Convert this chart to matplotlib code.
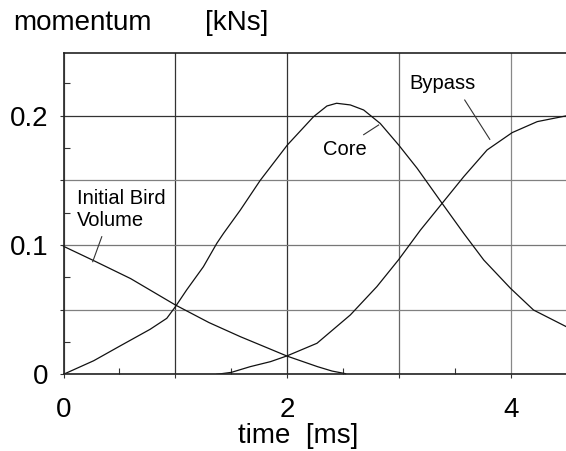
import matplotlib
matplotlib.use("Agg")
import matplotlib.pyplot as plt
from matplotlib.ticker import MultipleLocator

plt.rcParams['font.family'] = ['Liberation Sans', 'DejaVu Sans']

# ---- data ----
bird_t = [0.0, 0.27, 0.60, 1.0, 1.30, 1.58, 1.80, 2.0, 2.27, 2.40, 2.52]
bird_v = [0.099, 0.0879, 0.074, 0.0536, 0.040, 0.0291, 0.0212, 0.014, 0.0059,
          0.0025, 0.0005]

core_t = [0.0, 0.27, 0.505, 0.774, 0.923, 1.0, 1.10, 1.25, 1.37, 1.43, 1.58,
          1.758, 2.0, 2.234, 2.354, 2.44, 2.563, 2.682, 2.83, 2.995, 3.16, 3.383,
          3.576, 3.755, 3.994, 4.2, 4.5]
core_v = [0.0, 0.0105, 0.0219, 0.0348, 0.0433, 0.0523, 0.0652, 0.0832, 0.1013,
          0.109, 0.127, 0.150, 0.1773, 0.1992, 0.2075, 0.2096, 0.2083, 0.2044,
          0.194, 0.1773, 0.1593, 0.1322, 0.109, 0.0884, 0.0665, 0.0497, 0.0365]

bypass_t = [1.37, 1.50, 1.668, 1.85, 1.996, 2.265, 2.563, 2.80, 2.995, 3.19,
            3.383, 3.576, 3.785, 4.009, 4.233, 4.5]
bypass_v = [0.0, 0.0015, 0.0059, 0.0098, 0.0142, 0.024, 0.0459, 0.0678, 0.0887,
            0.1116, 0.1322, 0.1528, 0.1735, 0.1869, 0.1954, 0.200]

x_ticks = [0, 1, 2, 3, 4]
x_tick_labels = ['0', '', '2', '', '4']
y_ticks = [0, 0.05, 0.1, 0.15, 0.2]
y_tick_labels = ['0', '', '0.1', '', '0.2']

W, H = 566, 451
fig = plt.figure(figsize=(W / 100, H / 100), dpi=100)
x0, y0, x1, y1 = 63.5, 374.3, 566.0, 52.7
ax = fig.add_axes([x0 / W, (H - y0) / H, (x1 - x0) / W, (y0 - y1) / H])

ax.set_xlim(0, 4.49)
ax.set_ylim(0, 0.2487)

ax.set_xticks(x_ticks)
ax.set_xticklabels(x_tick_labels)
ax.set_yticks(y_ticks)
ax.set_yticklabels(y_tick_labels)
ax.xaxis.set_minor_locator(MultipleLocator(0.5))
ax.yaxis.set_minor_locator(MultipleLocator(0.025))

ax.tick_params(axis='both', which='major', direction='out', length=3,
               width=0.8, labelsize=20, color='#333333')
ax.tick_params(axis='x', which='major', pad=13)
ax.tick_params(axis='y', which='major', pad=8)
ax.tick_params(axis='both', which='minor', direction='in', length=4,
               width=0.8, color='#333333')

ax.grid(True, which='major', color='#888888', linewidth=0.9)
xgrid_cols = ['#888888', '#333333', '#333333', '#666666', '#888888']
for gl, c in zip(ax.xaxis.get_gridlines(), xgrid_cols):
    gl.set_color(c)
ygrid_cols = ['#888888', '#808080', '#777777', '#808080', '#333333']
for gl, c in zip(ax.yaxis.get_gridlines(), ygrid_cols):
    gl.set_color(c)
ax.set_axisbelow(True)

for s in ['left', 'bottom', 'top']:
    ax.spines[s].set_color('#222222')
    ax.spines[s].set_linewidth(1.2)
ax.spines['right'].set_visible(False)

lw = 0.9
ax.plot(bird_t, bird_v, color='#111111', lw=lw, clip_on=False)
ax.plot(core_t, core_v, color='#111111', lw=lw)
ax.plot(bypass_t, bypass_v, color='#111111', lw=lw)

fs = 14.5
# labels with leader lines
ax.text(0.118, 0.1275, 'Initial Bird\nVolume', fontsize=fs, ha='left',
        va='center', linespacing=1.2)
ax.plot([0.342, 0.261], [0.1064, 0.0871], color='#333333', lw=0.8)

ax.text(2.512, 0.1742, 'Core', fontsize=fs, ha='center', va='center')
ax.plot([2.682, 2.816], [0.1853, 0.1928], color='#333333', lw=0.8)

ax.text(3.383, 0.225, 'Bypass', fontsize=fs, ha='center', va='center')
ax.plot([3.585, 3.809], [0.2121, 0.1817], color='#333333', lw=0.8)

fig.text(13 / W, 1 - 23 / H, 'momentum', fontsize=20, ha='left', va='center')
fig.text(205 / W, 1 - 23 / H, '[kNs]', fontsize=20, ha='left', va='center')
fig.text(298.5 / W, 1 - 436 / H, 'time  [ms]', fontsize=20, ha='center',
         va='center')

fig.savefig('out.png', dpi=100)
